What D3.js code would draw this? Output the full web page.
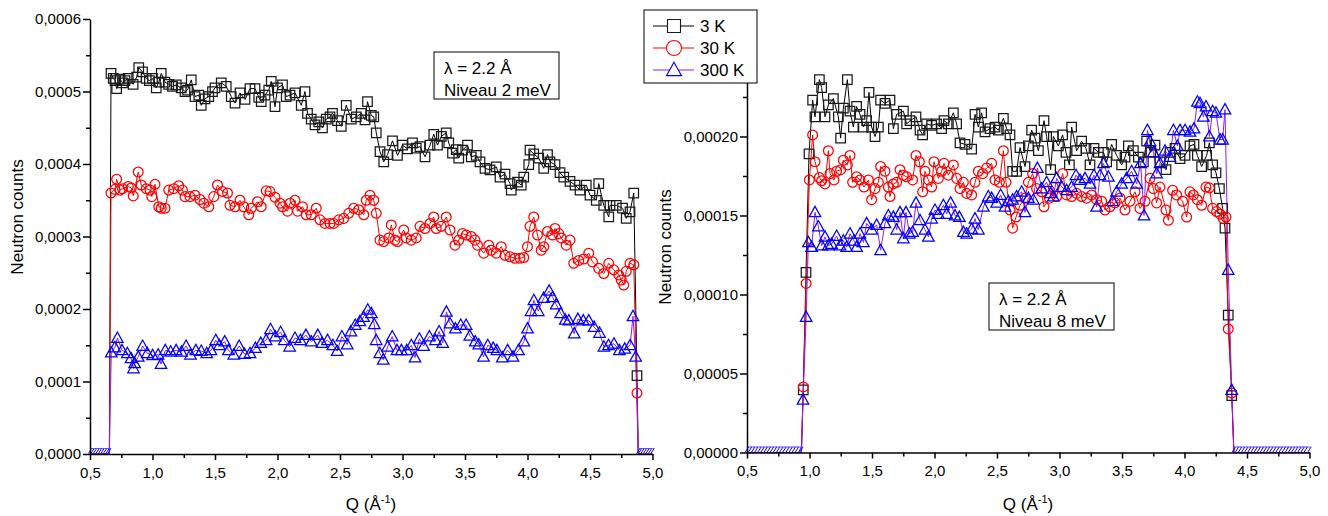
<!DOCTYPE html>
<html><head><meta charset="utf-8">
<script src="https://cdn.jsdelivr.net/npm/d3@7"></script>
<style>
body{margin:0;background:#fff}
svg text{font-family:"Liberation Sans",Arial,sans-serif;fill:#000}
</style>
</head><body>
<svg id="chart" width="1328" height="516"></svg>
<script>
// ---------------- DATA ----------------
const seriesNames = ["3 K", "30 K", "300 K"];
const xTickValues = [0.5, 1.0, 1.5, 2.0, 2.5, 3.0, 3.5, 4.0, 4.5, 5.0];
const leftYTickValues = [0, 0.0001, 0.0002, 0.0003, 0.0004, 0.0005, 0.0006];
const rightYTickValues = [0, 0.00005, 0.0001, 0.00015, 0.0002];
const leftNote = ["λ = 2.2 Å", "Niveau 2 meV"];
const rightNote = ["λ = 2.2 Å", "Niveau 8 meV"];
const yTitle = "Neutron counts";

// Q points where every series is zero (outside the detector window)
const leftZeroHeadQ = [0.50, 0.52, 0.54, 0.56, 0.58, 0.60, 0.62, 0.64, 0.655];
const leftZeroTailQ = [4.886, 4.90, 4.92, 4.94, 4.96, 4.98, 5.00];
const rightZeroHeadQ = [0.500, 0.525, 0.550, 0.575, 0.600, 0.625, 0.650, 0.675, 0.700, 0.725, 0.750, 0.775, 0.800, 0.825, 0.850, 0.875, 0.900, 0.925, 0.935];
const rightZeroTailQ = [4.395, 4.42, 4.445, 4.47, 4.495, 4.52, 4.545, 4.57, 4.595, 4.62, 4.645, 4.67, 4.695, 4.72, 4.745, 4.77, 4.795, 4.82, 4.845, 4.87, 4.895, 4.92, 4.945, 4.97, 5.00];

// Left panel (Niveau 2 meV): [Q, counts]
const left3K = [[0.668,5.25e-4],[0.686,5.18e-4],[0.700,5.15e-4],[0.713,5.04e-4],[0.740,5.17e-4],[0.760,5.12e-4],[0.780,5.15e-4],[0.806,5.18e-4],[0.845,5.10e-4],[0.873,5.20e-4],[0.890,5.33e-4],[0.920,5.27e-4],[0.950,5.18e-4],[0.975,5.15e-4],[1.000,5.18e-4],[1.030,5.05e-4],[1.050,5.13e-4],[1.070,5.25e-4],[1.100,5.13e-4],[1.130,5.10e-4],[1.160,5.07e-4],[1.190,5.09e-4],[1.230,5.05e-4],[1.260,5.00e-4],[1.280,5.02e-4],[1.310,5.16e-4],[1.340,4.93e-4],[1.370,4.95e-4],[1.390,4.81e-4],[1.420,4.90e-4],[1.450,4.93e-4],[1.480,5.00e-4],[1.500,5.05e-4],[1.550,5.12e-4],[1.590,5.07e-4],[1.630,4.93e-4],[1.660,4.84e-4],[1.700,4.98e-4],[1.740,4.89e-4],[1.780,5.04e-4],[1.820,5.04e-4],[1.850,4.92e-4],[1.870,4.86e-4],[1.900,4.95e-4],[1.930,5.02e-4],[1.950,5.14e-4],[1.980,4.79e-4],[2.000,5.05e-4],[2.040,5.09e-4],[2.070,4.93e-4],[2.100,4.95e-4],[2.140,4.98e-4],[2.190,4.81e-4],[2.220,5.00e-4],[2.240,4.70e-4],[2.270,4.62e-4],[2.300,4.54e-4],[2.330,4.58e-4],[2.360,4.50e-4],[2.390,4.62e-4],[2.420,4.65e-4],[2.440,4.70e-4],[2.480,4.60e-4],[2.510,4.52e-4],[2.550,4.81e-4],[2.590,4.62e-4],[2.630,4.65e-4],[2.670,4.70e-4],[2.700,4.61e-4],[2.720,4.86e-4],[2.750,4.67e-4],[2.770,4.65e-4],[2.790,4.43e-4],[2.820,4.17e-4],[2.850,4.03e-4],[2.880,4.13e-4],[2.920,4.32e-4],[2.960,4.12e-4],[3.000,4.26e-4],[3.040,4.21e-4],[3.080,4.29e-4],[3.110,4.22e-4],[3.140,4.24e-4],[3.180,4.10e-4],[3.220,4.26e-4],[3.250,4.41e-4],[3.280,4.26e-4],[3.310,4.38e-4],[3.350,4.43e-4],[3.370,4.29e-4],[3.400,4.15e-4],[3.430,4.20e-4],[3.450,4.08e-4],[3.480,4.19e-4],[3.520,4.26e-4],[3.550,4.10e-4],[3.590,4.12e-4],[3.620,4.03e-4],[3.660,3.94e-4],[3.700,3.92e-4],[3.750,3.96e-4],[3.780,3.82e-4],[3.820,3.86e-4],[3.860,3.73e-4],[3.870,3.64e-4],[3.920,3.75e-4],[3.950,3.71e-4],[3.970,3.82e-4],[4.010,3.99e-4],[4.020,4.19e-4],[4.050,4.14e-4],[4.090,4.08e-4],[4.130,3.94e-4],[4.160,4.13e-4],[4.180,4.03e-4],[4.220,3.99e-4],[4.260,3.88e-4],[4.290,3.82e-4],[4.340,3.76e-4],[4.380,3.71e-4],[4.420,3.64e-4],[4.470,3.71e-4],[4.500,3.57e-4],[4.550,3.50e-4],[4.570,3.73e-4],[4.610,3.43e-4],[4.650,3.27e-4],[4.660,3.43e-4],[4.710,3.43e-4],[4.760,3.39e-4],[4.790,3.25e-4],[4.820,3.34e-4],[4.850,3.60e-4],[4.876,1.08e-4]];

const left30K = [[0.668,3.60e-4],[0.700,3.65e-4],[0.713,3.79e-4],[0.740,3.64e-4],[0.760,3.66e-4],[0.806,3.69e-4],[0.830,3.67e-4],[0.846,3.56e-4],[0.886,3.89e-4],[0.910,3.71e-4],[0.950,3.66e-4],[0.980,3.64e-4],[0.994,3.55e-4],[1.020,3.72e-4],[1.050,3.41e-4],[1.070,3.39e-4],[1.100,3.39e-4],[1.130,3.64e-4],[1.170,3.66e-4],[1.210,3.70e-4],[1.240,3.64e-4],[1.260,3.55e-4],[1.300,3.55e-4],[1.340,3.57e-4],[1.380,3.51e-4],[1.410,3.46e-4],[1.450,3.41e-4],[1.490,3.55e-4],[1.520,3.71e-4],[1.560,3.62e-4],[1.600,3.60e-4],[1.620,3.43e-4],[1.660,3.41e-4],[1.700,3.50e-4],[1.730,3.41e-4],[1.770,3.30e-4],[1.790,3.39e-4],[1.840,3.48e-4],[1.870,3.41e-4],[1.910,3.63e-4],[1.940,3.62e-4],[1.980,3.54e-4],[2.020,3.46e-4],[2.040,3.41e-4],[2.080,3.35e-4],[2.100,3.46e-4],[2.140,3.50e-4],[2.160,3.35e-4],[2.200,3.41e-4],[2.230,3.30e-4],[2.270,3.30e-4],[2.310,3.39e-4],[2.340,3.23e-4],[2.380,3.18e-4],[2.420,3.18e-4],[2.450,3.18e-4],[2.490,3.23e-4],[2.530,3.25e-4],[2.570,3.32e-4],[2.610,3.39e-4],[2.650,3.37e-4],[2.690,3.30e-4],[2.710,3.50e-4],[2.740,3.57e-4],[2.770,3.50e-4],[2.790,3.32e-4],[2.820,2.95e-4],[2.850,2.93e-4],[2.890,2.98e-4],[2.910,3.16e-4],[2.940,2.95e-4],[2.960,2.93e-4],[3.010,3.09e-4],[3.030,2.98e-4],[3.070,2.95e-4],[3.110,2.98e-4],[3.140,3.14e-4],[3.180,3.11e-4],[3.220,3.18e-4],[3.250,3.27e-4],[3.270,3.11e-4],[3.310,3.14e-4],[3.350,3.27e-4],[3.380,3.09e-4],[3.420,2.88e-4],[3.450,2.95e-4],[3.480,3.04e-4],[3.510,3.02e-4],[3.550,3.00e-4],[3.580,2.95e-4],[3.600,2.88e-4],[3.650,2.77e-4],[3.690,2.88e-4],[3.710,2.81e-4],[3.750,2.77e-4],[3.790,2.86e-4],[3.820,2.74e-4],[3.860,2.72e-4],[3.900,2.70e-4],[3.940,2.70e-4],[3.970,2.71e-4],[4.000,2.86e-4],[4.020,3.14e-4],[4.050,3.27e-4],[4.080,3.02e-4],[4.110,2.81e-4],[4.130,2.86e-4],[4.160,3.07e-4],[4.200,3.02e-4],[4.220,3.11e-4],[4.250,3.04e-4],[4.270,2.98e-4],[4.310,2.88e-4],[4.340,2.95e-4],[4.370,2.63e-4],[4.410,2.67e-4],[4.450,2.69e-4],[4.490,2.77e-4],[4.520,2.65e-4],[4.570,2.56e-4],[4.610,2.49e-4],[4.650,2.63e-4],[4.690,2.54e-4],[4.730,2.47e-4],[4.750,2.40e-4],[4.770,2.33e-4],[4.790,2.52e-4],[4.820,2.63e-4],[4.850,2.61e-4],[4.876,0.84e-4]];

const left300K = [[0.670,1.40e-4],[0.699,1.47e-4],[0.719,1.60e-4],[0.756,1.43e-4],[0.799,1.39e-4],[0.828,1.32e-4],[0.848,1.18e-4],[0.857,1.25e-4],[0.886,1.34e-4],[0.921,1.49e-4],[0.958,1.39e-4],[1.001,1.36e-4],[1.045,1.37e-4],[1.068,1.24e-4],[1.102,1.43e-4],[1.145,1.41e-4],[1.189,1.43e-4],[1.232,1.41e-4],[1.269,1.49e-4],[1.304,1.37e-4],[1.347,1.43e-4],[1.390,1.42e-4],[1.434,1.39e-4],[1.468,1.43e-4],[1.506,1.57e-4],[1.535,1.50e-4],[1.578,1.55e-4],[1.607,1.43e-4],[1.650,1.37e-4],[1.693,1.49e-4],[1.736,1.38e-4],[1.780,1.39e-4],[1.823,1.46e-4],[1.866,1.53e-4],[1.909,1.57e-4],[1.944,1.72e-4],[1.982,1.62e-4],[2.025,1.68e-4],[2.054,1.57e-4],[2.097,1.48e-4],[2.140,1.60e-4],[2.183,1.57e-4],[2.227,1.64e-4],[2.270,1.55e-4],[2.322,1.64e-4],[2.356,1.53e-4],[2.400,1.57e-4],[2.443,1.50e-4],[2.477,1.42e-4],[2.515,1.62e-4],[2.558,1.51e-4],[2.587,1.69e-4],[2.622,1.78e-4],[2.659,1.83e-4],[2.688,1.89e-4],[2.722,1.99e-4],[2.751,1.94e-4],[2.774,1.79e-4],[2.789,1.57e-4],[2.818,1.39e-4],[2.846,1.30e-4],[2.881,1.48e-4],[2.918,1.62e-4],[2.956,1.43e-4],[2.991,1.43e-4],[3.034,1.43e-4],[3.071,1.50e-4],[3.100,1.33e-4],[3.135,1.59e-4],[3.169,1.49e-4],[3.215,1.62e-4],[3.264,1.57e-4],[3.293,1.69e-4],[3.322,1.53e-4],[3.351,1.96e-4],[3.380,1.80e-4],[3.423,1.73e-4],[3.466,1.78e-4],[3.509,1.78e-4],[3.538,1.63e-4],[3.582,1.55e-4],[3.610,1.51e-4],[3.648,1.34e-4],[3.682,1.50e-4],[3.726,1.46e-4],[3.755,1.43e-4],[3.798,1.33e-4],[3.841,1.43e-4],[3.884,1.34e-4],[3.928,1.43e-4],[3.971,1.55e-4],[4.000,1.73e-4],[4.028,1.97e-4],[4.051,2.12e-4],[4.086,1.97e-4],[4.129,2.15e-4],[4.173,2.25e-4],[4.201,2.16e-4],[4.230,2.06e-4],[4.265,1.94e-4],[4.302,1.85e-4],[4.331,1.84e-4],[4.374,1.66e-4],[4.403,1.86e-4],[4.446,1.84e-4],[4.490,1.84e-4],[4.533,1.75e-4],[4.576,1.67e-4],[4.611,1.48e-4],[4.648,1.50e-4],[4.692,1.52e-4],[4.735,1.43e-4],[4.778,1.45e-4],[4.821,1.50e-4],[4.844,1.90e-4],[4.865,1.34e-4]];

// Right panel (Niveau 8 meV): [Q, counts]
const right3K = [[0.950,0.396e-4],[0.972,1.14e-4],[0.996,1.89e-4],[1.025,2.23e-4],[1.044,2.125e-4],[1.079,2.36e-4],[1.097,2.31e-4],[1.124,2.125e-4],[1.151,2.20e-4],[1.191,2.24e-4],[1.231,2.125e-4],[1.249,1.99e-4],[1.271,2.18e-4],[1.303,2.36e-4],[1.324,2.16e-4],[1.351,2.06e-4],[1.377,2.19e-4],[1.404,2.14e-4],[1.431,2.06e-4],[1.457,2.10e-4],[1.476,2.28e-4],[1.497,2.06e-4],[1.524,2.00e-4],[1.551,2.06e-4],[1.569,2.23e-4],[1.604,2.21e-4],[1.644,2.23e-4],[1.671,2.05e-4],[1.697,2.14e-4],[1.751,2.16e-4],[1.777,2.08e-4],[1.804,2.10e-4],[1.852,2.125e-4],[1.884,2.04e-4],[1.905,2.01e-4],[1.937,2.08e-4],[1.977,2.07e-4],[2.017,2.08e-4],[2.057,2.05e-4],[2.076,2.10e-4],[2.111,2.08e-4],[2.151,2.15e-4],[2.177,2.08e-4],[2.204,1.96e-4],[2.244,1.95e-4],[2.297,1.92e-4],[2.324,2.14e-4],[2.351,2.06e-4],[2.377,2.15e-4],[2.404,2.03e-4],[2.444,2.05e-4],[2.484,2.06e-4],[2.511,2.04e-4],[2.551,2.115e-4],[2.577,2.05e-4],[2.604,2.01e-4],[2.625,1.78e-4],[2.657,1.78e-4],[2.684,1.93e-4],[2.724,1.81e-4],[2.751,1.94e-4],[2.777,2.04e-4],[2.804,1.99e-4],[2.831,1.91e-4],[2.876,2.10e-4],[2.897,2.00e-4],[2.929,1.79e-4],[2.951,2.00e-4],[2.991,1.94e-4],[3.025,2.01e-4],[3.052,1.90e-4],[3.079,1.82e-4],[3.097,2.06e-4],[3.137,1.91e-4],[3.177,1.97e-4],[3.212,1.925e-4],[3.244,1.82e-4],[3.276,1.925e-4],[3.311,1.90e-4],[3.351,1.90e-4],[3.377,1.84e-4],[3.417,1.95e-4],[3.457,1.88e-4],[3.497,1.82e-4],[3.524,1.87e-4],[3.551,1.94e-4],[3.591,1.91e-4],[3.631,1.87e-4],[3.671,1.84e-4],[3.697,1.97e-4],[3.729,1.90e-4],[3.764,1.945e-4],[3.804,1.84e-4],[3.852,1.79e-4],[3.884,1.90e-4],[3.924,1.925e-4],[3.964,1.86e-4],[4.004,1.88e-4],[4.044,1.94e-4],[4.076,1.95e-4],[4.103,1.88e-4],[4.137,1.81e-4],[4.177,1.88e-4],[4.199,1.96e-4],[4.225,1.82e-4],[4.252,1.77e-4],[4.279,1.67e-4],[4.305,1.545e-4],[4.324,1.42e-4],[4.350,0.87e-4],[4.378,0.36e-4]];

const right30K = [[0.950,0.415e-4],[0.973,1.07e-4],[0.999,1.725e-4],[1.025,2.01e-4],[1.044,1.84e-4],[1.079,1.74e-4],[1.097,1.72e-4],[1.124,1.70e-4],[1.151,1.91e-4],[1.164,1.765e-4],[1.196,1.725e-4],[1.217,1.78e-4],[1.249,1.79e-4],[1.271,1.85e-4],[1.303,1.82e-4],[1.324,1.88e-4],[1.345,1.71e-4],[1.377,1.745e-4],[1.404,1.725e-4],[1.436,1.68e-4],[1.471,1.725e-4],[1.497,1.60e-4],[1.524,1.67e-4],[1.551,1.71e-4],[1.569,1.81e-4],[1.604,1.78e-4],[1.631,1.68e-4],[1.644,1.62e-4],[1.671,1.70e-4],[1.697,1.71e-4],[1.724,1.79e-4],[1.751,1.755e-4],[1.777,1.745e-4],[1.825,1.725e-4],[1.852,1.88e-4],[1.879,1.84e-4],[1.905,1.65e-4],[1.924,1.78e-4],[1.951,1.725e-4],[1.977,1.68e-4],[1.996,1.84e-4],[2.031,1.735e-4],[2.057,1.78e-4],[2.076,1.83e-4],[2.111,1.755e-4],[2.151,1.82e-4],[2.177,1.735e-4],[2.204,1.67e-4],[2.231,1.71e-4],[2.257,1.64e-4],[2.297,1.63e-4],[2.324,1.71e-4],[2.351,1.78e-4],[2.385,1.765e-4],[2.417,1.80e-4],[2.457,1.83e-4],[2.484,1.725e-4],[2.519,1.71e-4],[2.551,1.91e-4],[2.572,1.71e-4],[2.604,1.535e-4],[2.625,1.42e-4],[2.652,1.49e-4],[2.684,1.565e-4],[2.724,1.61e-4],[2.751,1.71e-4],[2.785,1.765e-4],[2.817,1.67e-4],[2.857,1.65e-4],[2.876,1.555e-4],[2.919,1.61e-4],[2.951,1.68e-4],[2.977,1.62e-4],[3.025,1.765e-4],[3.057,1.63e-4],[3.097,1.62e-4],[3.137,1.64e-4],[3.177,1.62e-4],[3.217,1.61e-4],[3.257,1.63e-4],[3.297,1.60e-4],[3.337,1.59e-4],[3.364,1.535e-4],[3.404,1.555e-4],[3.444,1.58e-4],[3.484,1.61e-4],[3.524,1.535e-4],[3.564,1.59e-4],[3.604,1.65e-4],[3.644,1.545e-4],[3.684,1.59e-4],[3.724,1.735e-4],[3.751,1.67e-4],[3.777,1.58e-4],[3.804,1.68e-4],[3.852,1.535e-4],[3.871,1.47e-4],[3.905,1.66e-4],[3.937,1.63e-4],[3.985,1.59e-4],[4.017,1.49e-4],[4.044,1.65e-4],[4.071,1.63e-4],[4.103,1.60e-4],[4.137,1.565e-4],[4.172,1.68e-4],[4.199,1.675e-4],[4.225,1.545e-4],[4.257,1.525e-4],[4.284,1.51e-4],[4.311,1.48e-4],[4.332,1.49e-4],[4.350,0.782e-4],[4.378,0.376e-4]];

const right300K = [[0.948,0.333e-4],[0.973,0.857e-4],[0.991,1.33e-4],[1.017,1.30e-4],[1.044,1.52e-4],[1.071,1.43e-4],[1.097,1.31e-4],[1.124,1.365e-4],[1.151,1.31e-4],[1.177,1.32e-4],[1.217,1.37e-4],[1.244,1.31e-4],[1.271,1.34e-4],[1.297,1.30e-4],[1.324,1.385e-4],[1.356,1.34e-4],[1.377,1.30e-4],[1.404,1.385e-4],[1.431,1.33e-4],[1.457,1.45e-4],[1.497,1.41e-4],[1.537,1.44e-4],[1.569,1.28e-4],[1.604,1.45e-4],[1.631,1.50e-4],[1.671,1.49e-4],[1.697,1.41e-4],[1.724,1.52e-4],[1.751,1.355e-4],[1.772,1.52e-4],[1.799,1.385e-4],[1.825,1.395e-4],[1.852,1.58e-4],[1.884,1.47e-4],[1.924,1.41e-4],[1.951,1.365e-4],[1.977,1.48e-4],[2.004,1.535e-4],[2.031,1.51e-4],[2.071,1.565e-4],[2.097,1.51e-4],[2.129,1.58e-4],[2.164,1.50e-4],[2.199,1.49e-4],[2.231,1.395e-4],[2.257,1.385e-4],[2.297,1.415e-4],[2.324,1.48e-4],[2.351,1.41e-4],[2.391,1.555e-4],[2.431,1.62e-4],[2.457,1.61e-4],[2.497,1.58e-4],[2.529,1.63e-4],[2.564,1.555e-4],[2.591,1.59e-4],[2.625,1.60e-4],[2.657,1.62e-4],[2.697,1.65e-4],[2.724,1.52e-4],[2.751,1.61e-4],[2.791,1.60e-4],[2.823,1.80e-4],[2.857,1.67e-4],[2.897,1.71e-4],[2.929,1.64e-4],[2.951,1.62e-4],[2.977,1.735e-4],[3.017,1.68e-4],[3.057,1.66e-4],[3.097,1.68e-4],[3.132,1.755e-4],[3.164,1.725e-4],[3.204,1.735e-4],[3.244,1.70e-4],[3.276,1.755e-4],[3.297,1.555e-4],[3.324,1.755e-4],[3.351,1.83e-4],[3.391,1.745e-4],[3.425,1.59e-4],[3.457,1.65e-4],[3.497,1.70e-4],[3.537,1.735e-4],[3.577,1.78e-4],[3.617,1.70e-4],[3.649,1.83e-4],[3.676,1.50e-4],[3.703,2.04e-4],[3.724,1.97e-4],[3.751,1.90e-4],[3.777,1.765e-4],[3.804,1.83e-4],[3.844,1.91e-4],[3.884,1.87e-4],[3.911,2.04e-4],[3.943,1.94e-4],[3.964,2.04e-4],[4.004,2.04e-4],[4.044,2.03e-4],[4.076,2.05e-4],[4.103,2.22e-4],[4.124,2.21e-4],[4.151,2.125e-4],[4.172,2.19e-4],[4.199,2.00e-4],[4.225,2.16e-4],[4.252,2.15e-4],[4.284,1.98e-4],[4.305,1.98e-4],[4.324,2.17e-4],[4.350,1.155e-4],[4.378,0.395e-4]];

// ---------------- DRAWING ----------------
const svg = d3.select("#chart");
const lineColors = ["#000000", "#ff0000", "#8a1cff"];
const markColors = ["#1a1a1a", "#ff0000", "#0000ff"];
const FONT_TICK = 15, FONT_TITLE = 17;

function markerPath(kind, s) {
  if (kind === 0) return `M${-s/2},${-s/2}h${s}v${s}h${-s}Z`;
  if (kind === 1) { const r = s/2; return `M${r},0A${r},${r} 0 1 1 ${-r},0A${r},${r} 0 1 1 ${r},0Z`; }
  const h = s * 0.9;
  return `M0,${-h*0.58}L${s/2},${h*0.42}L${-s/2},${h*0.42}Z`;
}

const panels = [
  {x0: 90, x1: 652.5, yb: 454, yt: 19, ymax: 0.0006, yTicks: leftYTickValues, dec: 4,
   series: [left3K, left30K, left300K], head: leftZeroHeadQ, tail: leftZeroTailQ,
   note: leftNote, noteBox: [434, 52, 125, 47], yTitlePos: [17, 217], xTitleX: 371},
  {x0: 747, x1: 1309.5, yb: 452.5, yt: 18, ymax: 0.000275, yTicks: rightYTickValues, dec: 5,
   series: [right3K, right30K, right300K], head: rightZeroHeadQ, tail: rightZeroTailQ,
   note: rightNote, noteBox: [989, 283, 125, 47], yTitlePos: [665, 247], xTitleX: 1028}
];

panels.forEach(p => {
  const x = d3.scaleLinear().domain([0.5, 5.0]).range([p.x0, p.x1]);
  const y = d3.scaleLinear().domain([0, p.ymax]).range([p.yb, p.yt]);
  const g = svg.append("g");

  // series: lines, then markers
  p.series.forEach((s, i) => {
    const full = p.head.map(q => [q, 0]).concat(s, p.tail.map(q => [q, 0]));
    g.append("path").datum(full)
      .attr("d", d3.line().x(d => x(d[0])).y(d => y(d[1])))
      .attr("fill", "none").attr("stroke", lineColors[i]).attr("stroke-width", 1);
  });
  p.series.forEach((s, i) => {
    const size = i === 0 ? 9.5 : (i === 1 ? 9.8 : 11.5);
    g.append("g").selectAll("path").data(s).join("path")
      .attr("transform", d => `translate(${x(d[0])},${y(d[1])})`)
      .attr("d", markerPath(i, size))
      .attr("fill", "none").attr("stroke", markColors[i]).attr("stroke-width", 1.25);
  });
  // zero-level triangles (rendered as a dense hatch)
  const zeros = p.head.concat(p.tail);
  g.append("g").selectAll("line").data(zeros).join("line")
    .attr("x1", q => x(q) - 1.6).attr("y1", y(0) - 0.5)
    .attr("x2", q => x(q) + 1.6).attr("y2", y(0) - 5.5)
    .attr("stroke", "#0000ff").attr("stroke-width", 1);
  g.append("g").selectAll("line").data(d3.pairs(p.head).concat(d3.pairs(p.tail))).join("line")
    .attr("x1", d => x(d[0])).attr("x2", d => x(d[1]) + 1.6)
    .attr("y1", y(0) - 5.5).attr("y2", y(0) - 5.5)
    .attr("stroke", "#5a3cff").attr("stroke-width", 0.8);

  // axes
  const fmt = d => d.toFixed(1).replace(".", ",");
  const xMinor = xTickValues.slice(0, -1).map(v => v + 0.25);
  const xa = g.append("g").attr("transform", `translate(0,${p.yb})`)
    .call(d3.axisBottom(x).tickValues(xTickValues).tickFormat(fmt).tickSize(6).tickSizeOuter(0).tickPadding(7));
  const xm = g.append("g").attr("transform", `translate(0,${p.yb})`)
    .call(d3.axisBottom(x).tickValues(xMinor).tickFormat("").tickSize(4).tickSizeOuter(0));
  xm.select(".domain").remove();
  const yStep = p.yTicks[1] - p.yTicks[0];
  const yMinor = p.yTicks.map(v => v + yStep / 2).filter(v => v <= p.ymax);
  const ya = g.append("g").attr("transform", `translate(${p.x0},0)`)
    .call(d3.axisLeft(y).tickValues(p.yTicks).tickFormat(d => d.toFixed(p.dec).replace(".", ",")).tickSize(7).tickSizeOuter(0).tickPadding(2));
  const ym = g.append("g").attr("transform", `translate(${p.x0},0)`)
    .call(d3.axisLeft(y).tickValues(yMinor).tickFormat("").tickSize(4).tickSizeOuter(0));
  ym.select(".domain").remove();
  [xa, xm, ya, ym].forEach(a => {
    a.selectAll("path,line").attr("stroke", "#000").attr("stroke-width", 1.5);
    a.selectAll("text").attr("font-size", FONT_TICK).attr("font-family", "Liberation Sans, Arial, sans-serif").attr("fill", "#000");
  });

  // axis titles
  svg.append("text").attr("transform", `translate(${p.yTitlePos[0]},${p.yTitlePos[1]}) rotate(-90)`)
    .attr("text-anchor", "middle").attr("dy", "0.35em").attr("font-size", FONT_TITLE).text(yTitle);
  const xt = svg.append("text").attr("x", p.xTitleX).attr("y", 510).attr("text-anchor", "middle").attr("font-size", FONT_TITLE);
  xt.append("tspan").text("Q (Å");
  xt.append("tspan").attr("font-size", 11).attr("dy", -7).text("-1");
  xt.append("tspan").attr("dy", 7).text(")");

  // note box
  const [bx, by, bw, bh] = p.noteBox;
  svg.append("rect").attr("x", bx).attr("y", by).attr("width", bw).attr("height", bh)
    .attr("fill", "#fff").attr("stroke", "#000").attr("stroke-width", 1);
  p.note.forEach((t, k) => svg.append("text").attr("x", bx + 10).attr("y", by + 22 + k * 21.5)
    .attr("font-size", FONT_TITLE).text(t));
});

// legend
const lg = svg.append("g");
lg.append("rect").attr("x", 644).attr("y", 10).attr("width", 113).attr("height", 73)
  .attr("fill", "#fff").attr("stroke", "#000").attr("stroke-width", 1);
seriesNames.forEach((name, i) => {
  const cy = 26 + i * 22;
  lg.append("line").attr("x1", 653).attr("x2", 694).attr("y1", cy).attr("y2", cy)
    .attr("stroke", lineColors[i]).attr("stroke-width", 1);
  lg.append("path").attr("transform", `translate(674,${cy})`)
    .attr("d", markerPath(i, i === 0 ? 13 : 15))
    .attr("fill", "#fff").attr("stroke", markColors[i]).attr("stroke-width", 1.1);
  lg.append("text").attr("x", 700).attr("y", cy + 6).attr("font-size", FONT_TITLE).text(name);
});
</script>
</body></html>
